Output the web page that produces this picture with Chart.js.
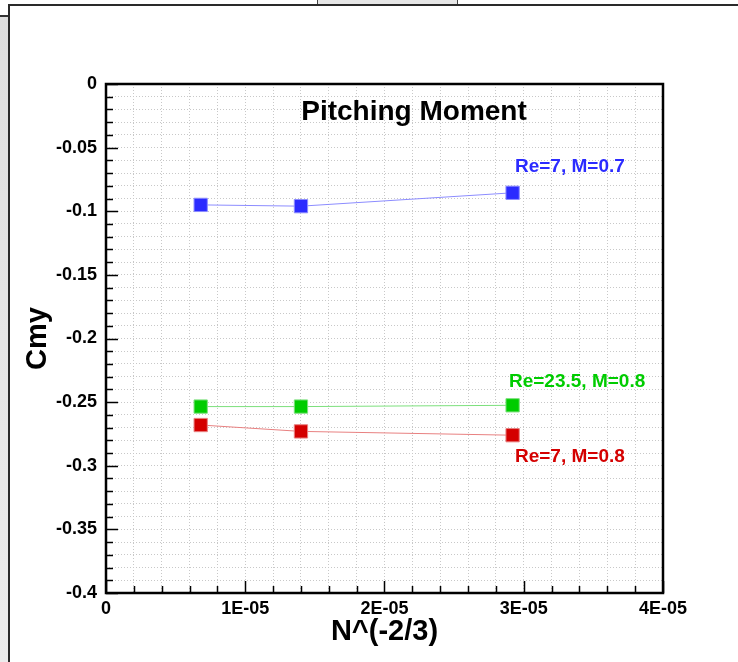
<!DOCTYPE html>
<html>
<head>
<meta charset="utf-8">
<title>Pitching Moment</title>
<script src="https://cdn.jsdelivr.net/npm/chart.js@4/dist/chart.umd.min.js"></script>
<style>
  html, body { margin: 0; padding: 0; background: #fff; }
  #page { position: relative; width: 738px; height: 662px; overflow: hidden; }
  .side { position: absolute; left: 0; top: 15px; width: 8px; height: 647px;
          background: linear-gradient(#dedede, #ececec); border-top: 2px solid #333; }
  .rule-v { position: absolute; left: 8px; top: 4px; width: 2px; height: 658px; background: #2a2a2a; }
  .rule-h { position: absolute; left: 8px; top: 4px; width: 730px; height: 2px; background: #2a2a2a; }
  .tab { position: absolute; left: 317px; top: -2px; width: 139px; height: 6px;
         background: #e6e6e6; border: 1px solid #444; }
  #chart { position: absolute; left: 0; top: 0; }
</style>
</head>
<body>
<div id="page">
  <div class="side"></div>
  <div class="tab"></div>
  <div class="rule-v"></div>
  <div class="rule-h"></div>
  <canvas id="chart" width="738" height="662"></canvas>
</div>
<script>
  // grid resolution N^(-2/3) for the three meshes
  const xValues = [6.8e-6, 1.4e-5, 2.92e-5];

  const cmyRe7M07 = [-0.095, -0.096, -0.0855];
  const cmyRe235M08 = [-0.2535, -0.2535, -0.2525];
  const cmyRe7M08 = [-0.268, -0.273, -0.276];

  const xMajorTicks = [0, 1e-5, 2e-5, 3e-5, 4e-5];
  const xTickLabels = ["0", "1E-05", "2E-05", "3E-05", "4E-05"];
  const yMajorTicks = [0, -0.05, -0.1, -0.15, -0.2, -0.25, -0.3, -0.35, -0.4];
  const yTickLabels = ["0", "-0.05", "-0.1", "-0.15", "-0.2", "-0.25", "-0.3", "-0.35", "-0.4"];

  const X_MIN = 0, X_MAX = 4e-5, X_STEP = 2e-6;
  const Y_MIN = -0.4, Y_MAX = 0, Y_STEP = 0.01;

  const FONT = "'Liberation Sans', Arial, Helvetica, sans-serif";
  const BLUE = "#2b2bff", GREEN = "#00cc00", RED = "#d40000";

  // text placed inside the plot, anchored in data coordinates
  const notes = [
    {text: "Pitching Moment", x: 2.212e-5, y: -0.022, color: "#000", size: 28, align: "center"},
    {text: "Re=7, M=0.7", x: 2.937e-5, y: -0.0652, color: BLUE, size: 19, align: "left"},
    {text: "Re=23.5, M=0.8", x: 2.894e-5, y: -0.2342, color: GREEN, size: 19, align: "left"},
    {text: "Re=7, M=0.8", x: 2.937e-5, y: -0.2931, color: RED, size: 19, align: "left"},
  ];

  function steps(min, max, step) {
    const out = [];
    const n = Math.round((max - min) / step);
    for (let i = 0; i <= n; i++) out.push(min + i * step);
    return out;
  }

  function labelFor(value, majors, labels, eps) {
    const i = majors.findIndex((m) => Math.abs(m - value) < eps);
    return i >= 0 ? labels[i] : "";
  }

  function series(label, values, color, lineColor) {
    return {
      label,
      data: values.map((v, i) => ({x: xValues[i], y: v})),
      showLine: true,
      borderColor: lineColor,
      borderWidth: 1,
      backgroundColor: color,
      pointStyle: "rect",
      pointRadius: 9.4,
      pointHoverRadius: 9.4,
      pointBorderColor: lineColor,
      pointBorderWidth: 1,
    };
  }

  // inward tick marks, plot frame and in-plot text
  const framePlugin = {
    id: "frame",
    beforeDatasetsDraw(chart) {
      const {ctx, chartArea: a, scales: {x, y}} = chart;
      ctx.save();
      ctx.strokeStyle = "#000";
      ctx.lineWidth = 1.5;
      ctx.beginPath();
      y.ticks.forEach((t) => {
        const py = Math.round(y.getPixelForValue(t.value)) + 0.5;
        const len = t.label ? 12 : 7;
        ctx.moveTo(a.left, py);
        ctx.lineTo(a.left + len, py);
      });
      x.ticks.forEach((t) => {
        const px = Math.round(x.getPixelForValue(t.value)) + 0.5;
        const len = t.label ? 12 : 7;
        ctx.moveTo(px, a.bottom);
        ctx.lineTo(px, a.bottom - len);
      });
      ctx.stroke();
      ctx.lineWidth = 2.5;
      ctx.strokeRect(a.left, a.top, a.right - a.left, a.bottom - a.top);
      ctx.restore();
    },
    afterDraw(chart) {
      const {ctx, scales: {x, y}} = chart;
      ctx.save();
      ctx.textBaseline = "middle";
      notes.forEach((n) => {
        ctx.font = `bold ${n.size}px ${FONT}`;
        ctx.fillStyle = n.color;
        ctx.textAlign = n.align;
        ctx.fillText(n.text, x.getPixelForValue(n.x), y.getPixelForValue(n.y));
      });
      ctx.restore();
    },
  };

  const gridLines = {color: "#c8c8c8", lineWidth: 1, drawTicks: false};

  new Chart(document.getElementById("chart"), {
    type: "scatter",
    data: {
      datasets: [
        series("Re=7, M=0.7", cmyRe7M07, BLUE, "#8c8cff"),
        series("Re=23.5, M=0.8", cmyRe235M08, GREEN, "#7ce07c"),
        series("Re=7, M=0.8", cmyRe7M08, RED, "#e88080"),
      ],
    },
    options: {
      responsive: false,
      animation: false,
      events: [],
      layout: {padding: {left: 0, top: 84, right: 75, bottom: 0}},
      plugins: {legend: {display: false}, tooltip: {enabled: false}},
      scales: {
        x: {
          type: "linear",
          min: X_MIN,
          max: X_MAX,
          afterBuildTicks: (s) => { s.ticks = steps(X_MIN, X_MAX, X_STEP).map((v) => ({value: v})); },
          afterFit: (s) => { s.height = 69; },
          grid: gridLines,
          border: {display: false, dash: [1, 2]},
          ticks: {
            autoSkip: false,
            maxRotation: 0,
            padding: 5,
            color: "#000",
            font: {family: FONT, size: 18, weight: "bold"},
            callback: (v) => labelFor(v, xMajorTicks, xTickLabels, 1e-9),
          },
          title: {
            display: true,
            text: "N^(-2/3)",
            color: "#000",
            font: {family: FONT, size: 29, weight: "bold"},
            padding: {top: 0, bottom: 13},
          },
        },
        y: {
          type: "linear",
          min: Y_MIN,
          max: Y_MAX,
          afterBuildTicks: (s) => { s.ticks = steps(Y_MIN, Y_MAX, Y_STEP).map((v) => ({value: v})); },
          afterFit: (s) => { s.width = 106; },
          grid: gridLines,
          border: {display: false, dash: [1, 2]},
          ticks: {
            autoSkip: false,
            padding: 9,
            color: "#000",
            font: {family: FONT, size: 18, weight: "bold"},
            callback: (v) => labelFor(v, yMajorTicks, yTickLabels, 1e-6),
          },
          title: {
            display: true,
            text: "Cmy",
            color: "#000",
            font: {family: FONT, size: 29, weight: "bold"},
            padding: {top: 21, bottom: 0},
          },
        },
      },
    },
    plugins: [framePlugin],
  });
</script>
</body>
</html>
